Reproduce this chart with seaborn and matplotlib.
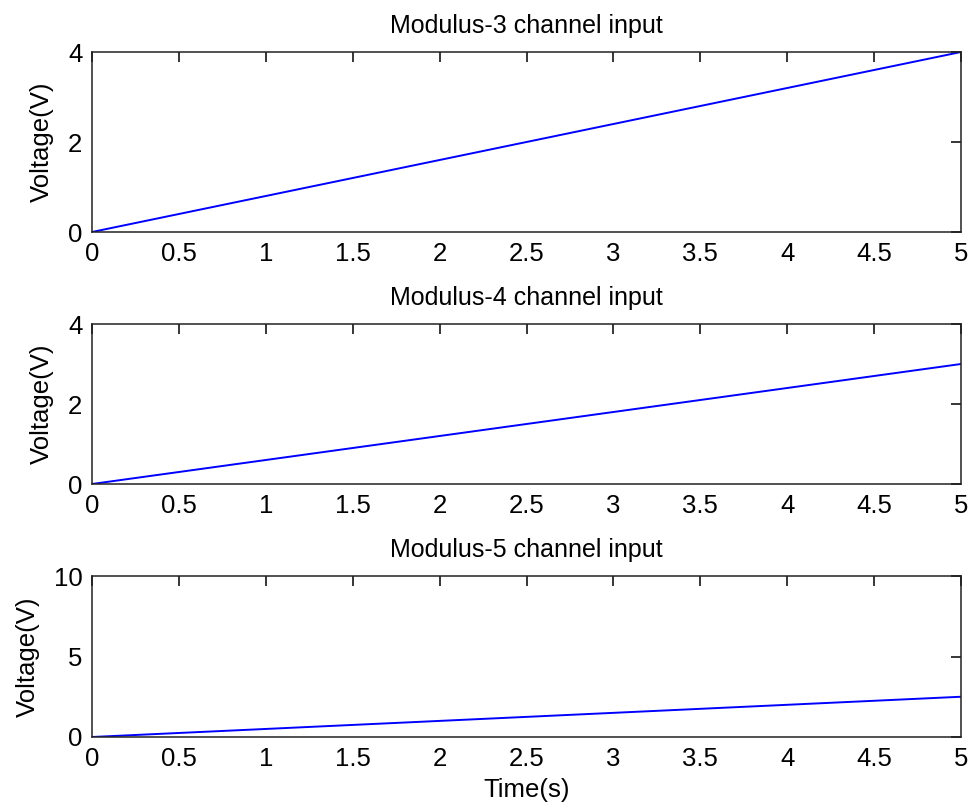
import matplotlib
matplotlib.use("Agg")
import matplotlib.pyplot as plt
import seaborn as sns
import pandas as pd

sns.set_style("white")
plt.rcParams['font.family'] = ['Liberation Sans', 'DejaVu Sans']
plt.rcParams['text.color'] = 'black'
plt.rcParams['axes.labelcolor'] = 'black'

time_s = [0, 1, 2, 3, 4, 5]
mod3_v = [0, 0.8, 1.6, 2.4, 3.2, 4.0]
mod4_v = [0, 0.6, 1.2, 1.8, 2.4, 3.0]
mod5_v = [0, 0.5, 1.0, 1.5, 2.0, 2.5]

titles = ["Modulus-3 channel input", "Modulus-4 channel input", "Modulus-5 channel input"]
series = [mod3_v, mod4_v, mod5_v]
ylims = [(0, 4), (0, 4), (0, 10)]
yticks = [[0, 2, 4], [0, 2, 4], [0, 5, 10]]
xticks = [0, 0.5, 1, 1.5, 2, 2.5, 3, 3.5, 4, 4.5, 5]

W, H = 971, 810
fig = plt.figure(figsize=(W / 100, H / 100), dpi=100)
boxes = [(92, 52, 961, 232), (92, 324, 961, 484), (92, 576, 961, 737)]

for i, (b, vals) in enumerate(zip(boxes, series)):
    l, t, r, bt = b
    ax = fig.add_axes([l / W, 1 - bt / H, (r - l) / W, (bt - t) / H])
    df = pd.DataFrame({"t": time_s, "v": vals})
    sns.lineplot(data=df, x="t", y="v", ax=ax, color="#0000ff", linewidth=1.4)
    ax.set_xlim(0, 5)
    ax.set_ylim(*ylims[i])
    ax.set_xticks(xticks)
    ax.set_xticklabels([f"{x:g}" for x in xticks])
    ax.set_yticks(yticks[i])
    ax.tick_params(direction="in", top=True, right=True, length=7, width=1.1,
                   labelsize=18.5, colors="black")
    ax.tick_params(axis="x", pad=7)
    ax.tick_params(axis="y", pad=7)
    for s in ax.spines.values():
        s.set_visible(True)
        s.set_color("#222222")
        s.set_linewidth(1.1)
    ax.set_title(titles[i], fontsize=18, pad=14, color="black")
    ax.set_ylabel("Voltage(V)", fontsize=18.5, labelpad=10)
    ax.set_xlabel("Time(s)" if i == 2 else "", fontsize=18.5, labelpad=5)

fig.savefig("out.png", dpi=100, facecolor="white")
